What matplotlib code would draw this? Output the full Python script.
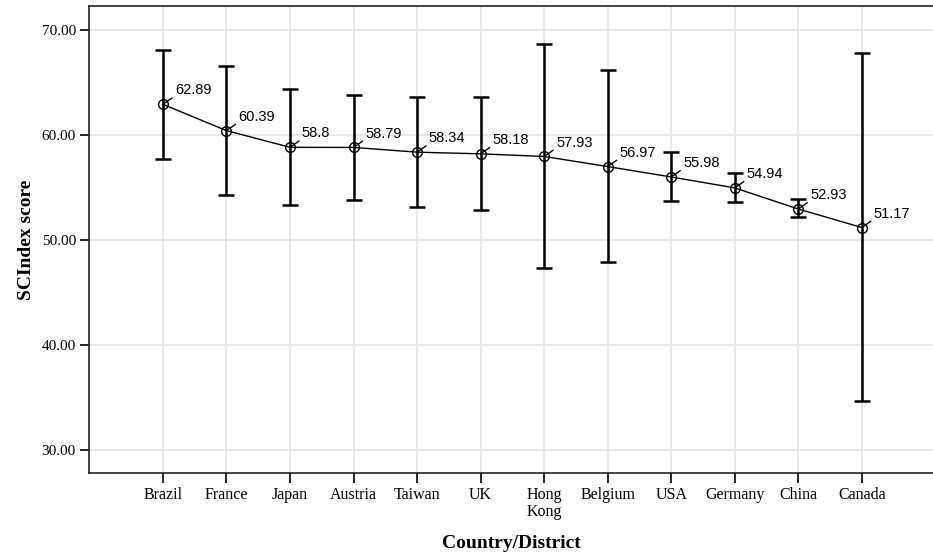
import matplotlib
matplotlib.use('Agg')
import matplotlib.pyplot as plt
import numpy as np

# Data
countries = ['Brazil', 'France', 'Japan', 'Austria', 'Taiwan', 'UK',
             'Hong\nKong', 'Belgium', 'USA', 'Germany', 'China', 'Canada']
means = [62.89, 60.39, 58.8, 58.79, 58.34, 58.18, 57.93, 56.97, 55.98, 54.94, 52.93, 51.17]
upper = [68.10, 66.52, 64.36, 63.79, 63.60, 63.60, 68.67, 66.17, 58.37, 56.38, 53.84, 67.81]
lower = [57.71, 54.29, 53.27, 53.81, 53.12, 52.80, 47.28, 47.85, 53.65, 53.56, 52.13, 34.64]
value_labels = ['62.89', '60.39', '58.8', '58.79', '58.34', '58.18',
                '57.93', '56.97', '55.98', '54.94', '52.93', '51.17']
y_ticks = [30, 40, 50, 60, 70]

fig = plt.figure(figsize=(9.33, 5.53), dpi=100)
ax = fig.add_axes([0.0954, 0.1452, 0.9046, 0.844])

x = np.arange(len(countries))
means_a = np.array(means)
yerr = [means_a - np.array(lower), np.array(upper) - means_a]

# grid
ax.set_axisbelow(True)
ax.grid(True, color='#e6e6e6', linewidth=1.3)

# error bars (thick) and connecting line with open circles
ax.errorbar(x, means, yerr=yerr, fmt='none', ecolor='black', elinewidth=1.8,
            capsize=6, capthick=1.8, zorder=3)
ax.plot(x, means, color='black', linewidth=1.0, marker='o', markersize=7,
        markerfacecolor='none', markeredgecolor='black', markeredgewidth=1.0, zorder=4)

# value annotations with leader lines
for xi, yi, lab in zip(x, means, value_labels):
    ax.annotate(lab, xy=(xi, yi), xytext=(8.5, 10), textcoords='offset points',
                ha='left', va='center', fontsize=10.5, family='Liberation Sans',
                arrowprops=dict(arrowstyle='-', color='black', lw=1.0,
                                relpos=(0, 0.1), shrinkA=0, shrinkB=0),
                zorder=5)

ax.set_xlim(-1.164, 12.12)
ax.set_ylim(27.84, 72.25)
ax.set_xticks(x)
ax.set_xticklabels(countries, family='Liberation Serif', fontsize=11.5,
                   linespacing=1.1)
ax.set_yticks(y_ticks)
ax.set_yticklabels([f'{v:.2f}' for v in y_ticks], family='Liberation Serif', fontsize=11)
ax.tick_params(axis='x', length=7, width=1.2, pad=3)
ax.tick_params(axis='y', length=6.5, width=1.2, pad=3)

for s in ['left', 'bottom', 'top']:
    ax.spines[s].set_linewidth(1.2)
    ax.spines[s].set_color('#222222')
ax.spines['right'].set_visible(False)

ax.set_xlabel('Country/District', family='Liberation Serif', fontsize=14,
              fontweight='bold', labelpad=11)
ax.set_ylabel('SCIndex score', family='Liberation Serif', fontsize=14,
              fontweight='bold', labelpad=5)

fig.savefig('out.png', dpi=100)
